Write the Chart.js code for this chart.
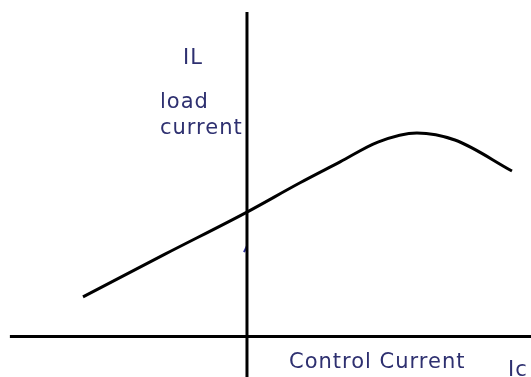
<!DOCTYPE html>
<html>
<head>
<meta charset="utf-8">
<script src="https://cdn.jsdelivr.net/npm/chart.js@4"></script>
<style>
  html, body { margin: 0; padding: 0; background: #fff; }
  canvas { display: block; }
</style>
</head>
<body>
<canvas id="chartLoad" width="531" height="377"></canvas>
<script>
// curva da corrente de carga em função da corrente de controle
const controlCurrent = [-6.64, -3.32, 0, 2.15, 3.77, 5.30, 6.88, 8.42, 10.73];
const loadCurrent    = [1.18, 2.45, 3.70, 4.57, 5.19, 5.78, 6.05, 5.84, 4.92];

// extensão dos eixos (origem em 0,0)
const axisX = [-9.6, 11.5];
const axisY = [-1.2, 9.64];

// pequeno traço azul junto ao eixo vertical
const markX = [-0.12, 0];
const markY = [2.51, 2.69];

// textos
const labelY = 'IL';
const labelYName = ['load', 'current'];
const labelX = 'Control Current';
const labelXSymbol = 'Ic';

const pts = (xs, ys) => xs.map((x, i) => ({ x: x, y: ys[i] }));

const textPlugin = {
    id: 'textos',
    afterDraw(chart) {
        const ctx = chart.ctx;
        ctx.save();
        ctx.fillStyle = '#2e3070';
        ctx.font = '21px "DejaVu Sans"';
        ctx.letterSpacing = '1px';
        ctx.textBaseline = 'alphabetic';
        ctx.fillText(labelY, 183, 64);
        ctx.fillText(labelYName[0], 160, 108);
        ctx.fillText(labelYName[1], 160, 134);
        ctx.fillText(labelX, 289, 368);
        ctx.fillText(labelXSymbol, 508, 376);
        ctx.restore();
    }
};

const ctxLoad = document.getElementById('chartLoad').getContext('2d');
const chartLoad = new Chart(ctxLoad, {
    type: 'scatter',
    data: {
        datasets: [
            {
                label: 'curva',
                data: pts(controlCurrent, loadCurrent),
                showLine: true,
                borderColor: '#000',
                borderWidth: 3,
                cubicInterpolationMode: 'monotone',
                pointRadius: 0
            },
            {
                label: 'eixo x',
                data: pts(axisX, [0, 0]),
                showLine: true,
                borderColor: '#000',
                borderWidth: 3,
                pointRadius: 0
            },
            {
                label: 'eixo y',
                data: pts([0, 0], axisY),
                showLine: true,
                borderColor: '#000',
                borderWidth: 3,
                pointRadius: 0
            },
            {
                label: 'marca',
                data: pts(markX, markY),
                showLine: true,
                borderColor: '#2b2f9a',
                borderWidth: 2,
                pointRadius: 0
            }
        ]
    },
    options: {
        responsive: false,
        animation: false,
        layout: { padding: 0 },
        plugins: {
            legend: { display: false },
            tooltip: { enabled: false },
            title: { display: false }
        },
        scales: {
            x: { type: 'linear', min: -10, max: 11.5, display: false },
            y: { type: 'linear', min: -1.2, max: 10, display: false }
        }
    },
    plugins: [textPlugin]
});
</script>
</body>
</html>
